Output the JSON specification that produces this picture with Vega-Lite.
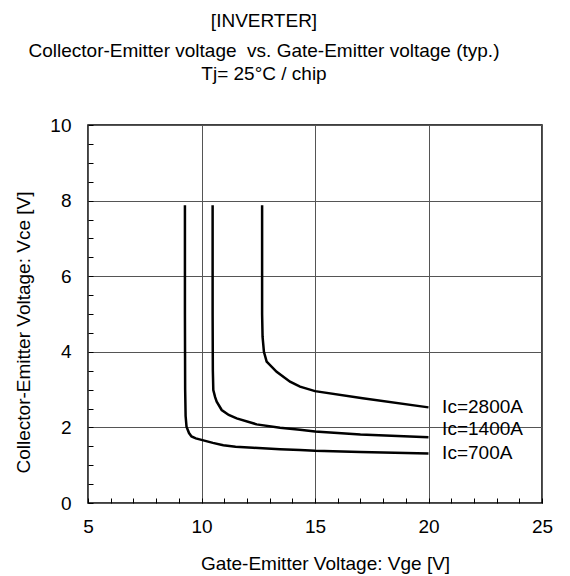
{
  "$schema": "https://vega.github.io/schema/vega-lite/v6.json",
  "autosize": "none",
  "width": 454,
  "height": 378,
  "padding": {"left": 88, "top": 125, "right": 28, "bottom": 73},
  "background": "white",
  "config": {
    "font": "Liberation Sans",
    "view": {"stroke": "black", "strokeWidth": 1.5},
    "axis": {"labelFont": "Liberation Sans", "titleFont": "Liberation Sans", "labelColor": "black", "titleColor": "black", "titleFontWeight": "normal", "labelFontSize": 19, "titleFontSize": 19}
  },
  "title": {
    "text": "[INVERTER]",
    "subtitle": ["Collector-Emitter voltage\u00a0 vs. Gate-Emitter voltage (typ.)", "Tj= 25°C / chip"],
    "anchor": "middle",
    "frame": "group",
    "dx": -51,
    "offset": 32,
    "font": "Liberation Sans",
    "subtitleFont": "Liberation Sans",
    "fontSize": 19,
    "subtitleFontSize": 19,
    "fontWeight": "normal",
    "color": "black",
    "subtitleColor": "black",
    "subtitlePadding": 11,
    "subtitleLineHeight": 23
  },
  "datasets": {
    "curves": [
      {"ic": "700A", "o": 1, "vge": 9.27, "vce": 7.88},
      {"ic": "700A", "o": 2, "vge": 9.27, "vce": 5.0},
      {"ic": "700A", "o": 3, "vge": 9.28, "vce": 3.0},
      {"ic": "700A", "o": 4, "vge": 9.30, "vce": 2.3},
      {"ic": "700A", "o": 5, "vge": 9.34, "vce": 2.02},
      {"ic": "700A", "o": 6, "vge": 9.45, "vce": 1.85},
      {"ic": "700A", "o": 7, "vge": 9.56, "vce": 1.76},
      {"ic": "700A", "o": 8, "vge": 9.75, "vce": 1.71},
      {"ic": "700A", "o": 9, "vge": 10.0, "vce": 1.67},
      {"ic": "700A", "o": 10, "vge": 10.5, "vce": 1.59},
      {"ic": "700A", "o": 11, "vge": 10.96, "vce": 1.53},
      {"ic": "700A", "o": 12, "vge": 11.5, "vce": 1.49},
      {"ic": "700A", "o": 13, "vge": 12.27, "vce": 1.46},
      {"ic": "700A", "o": 14, "vge": 13.46, "vce": 1.42},
      {"ic": "700A", "o": 15, "vge": 14.34, "vce": 1.40},
      {"ic": "700A", "o": 16, "vge": 15.0, "vce": 1.38},
      {"ic": "700A", "o": 17, "vge": 17.0, "vce": 1.35},
      {"ic": "700A", "o": 18, "vge": 20.0, "vce": 1.31},
      {"ic": "1400A", "o": 1, "vge": 10.49, "vce": 7.88},
      {"ic": "1400A", "o": 2, "vge": 10.49, "vce": 5.0},
      {"ic": "1400A", "o": 3, "vge": 10.5, "vce": 3.5},
      {"ic": "1400A", "o": 4, "vge": 10.52, "vce": 2.99},
      {"ic": "1400A", "o": 5, "vge": 10.6, "vce": 2.8},
      {"ic": "1400A", "o": 6, "vge": 10.67, "vce": 2.68},
      {"ic": "1400A", "o": 7, "vge": 10.89, "vce": 2.46},
      {"ic": "1400A", "o": 8, "vge": 11.2, "vce": 2.33},
      {"ic": "1400A", "o": 9, "vge": 11.55, "vce": 2.24},
      {"ic": "1400A", "o": 10, "vge": 12.43, "vce": 2.08},
      {"ic": "1400A", "o": 11, "vge": 13.46, "vce": 1.99},
      {"ic": "1400A", "o": 12, "vge": 14.34, "vce": 1.94},
      {"ic": "1400A", "o": 13, "vge": 15.0, "vce": 1.89},
      {"ic": "1400A", "o": 14, "vge": 17.0, "vce": 1.81},
      {"ic": "1400A", "o": 15, "vge": 20.0, "vce": 1.74},
      {"ic": "2800A", "o": 1, "vge": 12.67, "vce": 7.88},
      {"ic": "2800A", "o": 2, "vge": 12.67, "vce": 5.0},
      {"ic": "2800A", "o": 3, "vge": 12.69, "vce": 4.40},
      {"ic": "2800A", "o": 4, "vge": 12.75, "vce": 4.0},
      {"ic": "2800A", "o": 5, "vge": 12.87, "vce": 3.74},
      {"ic": "2800A", "o": 6, "vge": 13.31, "vce": 3.47},
      {"ic": "2800A", "o": 7, "vge": 13.9, "vce": 3.21},
      {"ic": "2800A", "o": 8, "vge": 14.34, "vce": 3.08},
      {"ic": "2800A", "o": 9, "vge": 15.0, "vce": 2.96},
      {"ic": "2800A", "o": 10, "vge": 17.1, "vce": 2.77},
      {"ic": "2800A", "o": 11, "vge": 20.0, "vce": 2.53}
    ],
    "labels": [
      {"label": "Ic=2800A", "vge": 20.6, "vce": 2.53},
      {"label": "Ic=1400A", "vge": 20.6, "vce": 1.96},
      {"label": "Ic=700A", "vge": 20.6, "vce": 1.32}
    ]
  },
  "layer": [
    {
      "data": {"name": "curves"},
      "mark": {"type": "line", "color": "black", "strokeWidth": 2.5},
      "encoding": {
        "x": {"field": "vge", "type": "quantitative", "scale": {"domain": [5, 25], "nice": false, "zero": false},
          "axis": {"orient": "bottom", "values": [5, 10, 15, 20, 25], "title": "Gate-Emitter Voltage: Vge [V]", "titleX": 237, "titlePadding": 18, "labelPadding": 14, "ticks": false, "domain": false, "grid": true, "gridColor": "#555", "gridWidth": 1, "labelFlush": false}},
        "y": {"field": "vce", "type": "quantitative", "scale": {"domain": [0, 10], "nice": false},
          "axis": {"orient": "left", "values": [0, 2, 4, 6, 8, 10], "title": "Collector-Emitter Voltage: Vce [V]", "titleY": 207, "titlePadding": 16, "labelPadding": 17, "ticks": false, "domain": false, "grid": true, "gridColor": "#555", "gridWidth": 1, "labelFlush": false}},
        "detail": {"field": "ic"},
        "order": {"field": "o", "type": "quantitative"}
      }
    },
    {
      "data": {"name": "labels"},
      "mark": {"type": "text", "align": "left", "baseline": "middle", "fontSize": 19, "font": "Liberation Sans", "color": "black"},
      "encoding": {
        "x": {"field": "vge", "type": "quantitative",
          "axis": {"orient": "bottom", "values": [5, 6, 7, 8, 9, 10, 11, 12, 13, 14, 15, 16, 17, 18, 19, 20, 21, 22, 23, 24, 25], "labels": false, "title": null, "ticks": true, "tickSize": -5, "tickColor": "black", "tickWidth": 1, "domain": false, "grid": false}},
        "y": {"field": "vce", "type": "quantitative",
          "axis": {"orient": "left", "values": [0, 0.5, 1, 1.5, 2, 2.5, 3, 3.5, 4, 4.5, 5, 5.5, 6, 6.5, 7, 7.5, 8, 8.5, 9, 9.5, 10], "labels": false, "title": null, "ticks": true, "tickSize": -5, "tickColor": "black", "tickWidth": 1, "domain": false, "grid": false}},
        "text": {"field": "label"}
      }
    }
  ],
  "resolve": {"axis": {"x": "independent", "y": "independent"}}
}
